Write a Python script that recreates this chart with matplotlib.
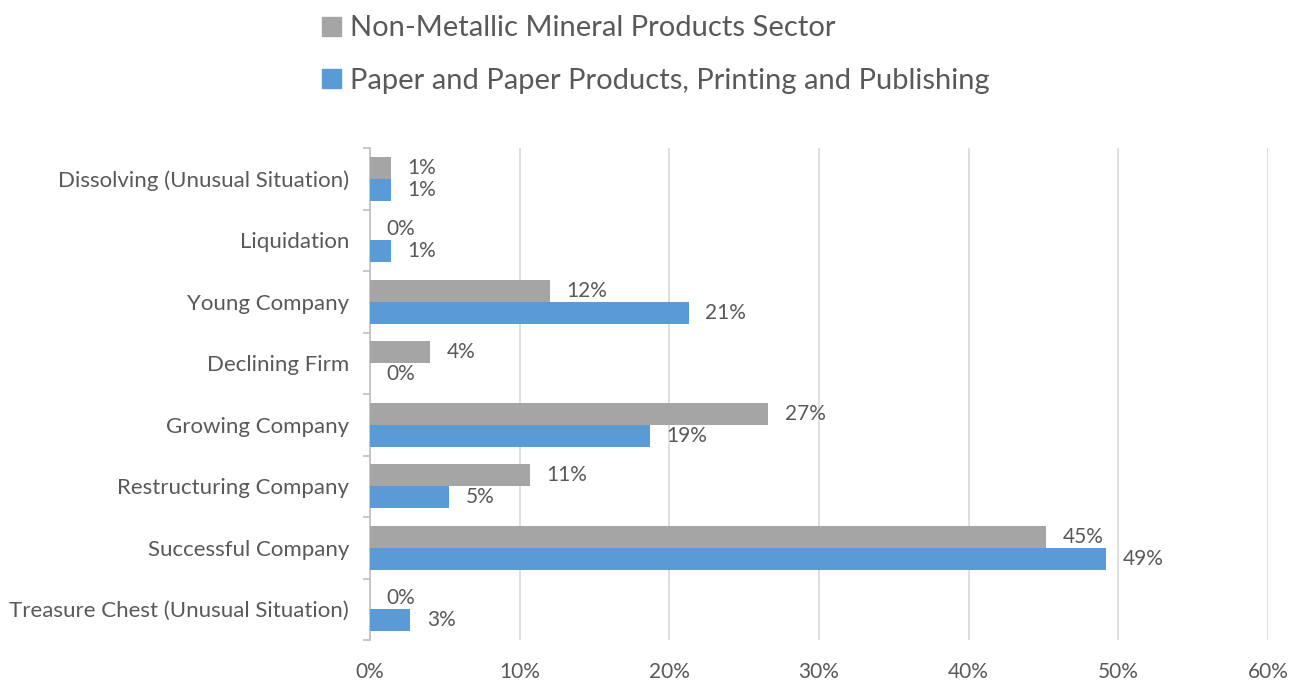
import matplotlib.pyplot as plt
import numpy as np
from matplotlib.patches import Patch
from matplotlib.ticker import FixedLocator, PercentFormatter

categories = ['Dissolving (Unusual Situation)', 'Liquidation', 'Young Company',
              'Declining Firm', 'Growing Company', 'Restructuring Company',
              'Successful Company', 'Treasure Chest (Unusual Situation)']
non_metallic = [1.4, 0.0, 12.0, 4.0, 26.6, 10.7, 45.2, 0.0]
paper = [1.4, 1.4, 21.3, 0.0, 18.7, 5.3, 49.2, 2.7]
series_names = ['Non-Metallic Mineral Products Sector',
                'Paper and Paper Products, Printing and Publishing']

gray = '#a5a5a5'
blue = '#5b9bd5'
text_col = '#595959'

plt.rcParams['font.family'] = ['Lato', 'DejaVu Sans']

fig = plt.figure(figsize=(12.99, 6.8), dpi=100)
ax = fig.add_axes([0.2848, 0.0588, 0.6913, 0.7235])

y = np.arange(len(categories))
h = 0.36
b1 = ax.barh(y - h / 2, non_metallic, height=h, color=gray, zorder=3)
b2 = ax.barh(y + h / 2, paper, height=h, color=blue, zorder=3)

for bars, vals in ((b1, non_metallic), (b2, paper)):
    for bar, v in zip(bars, vals):
        ax.annotate(f'{round(v):.0f}%', (v, bar.get_y() + bar.get_height() / 2),
                    xytext=(12, 0), textcoords='offset points',
                    va='center', ha='left', fontsize=15, color=text_col)

ax.set_xlim(0, 60)
ax.set_ylim(len(categories) - 0.5, -0.5)
ax.set_xticks(np.arange(0, 61, 10))
ax.xaxis.set_major_formatter(PercentFormatter(decimals=0))
ax.set_yticks(y)
ax.set_yticklabels(categories)
ax.yaxis.set_minor_locator(FixedLocator(np.arange(-0.5, len(categories), 1)))
ax.tick_params(axis='y', which='major', length=0, pad=15, labelsize=16, labelcolor=text_col)
ax.tick_params(axis='y', which='minor', length=5, color='#bfbfbf', width=1.2)
ax.tick_params(axis='x', length=0, pad=16, labelsize=15, labelcolor=text_col)
ax.grid(axis='x', color='#d9d9d9', linewidth=1.2, zorder=0)
for s in ('top', 'right', 'bottom'):
    ax.spines[s].set_visible(False)
ax.spines['left'].set_color('#bfbfbf')
ax.spines['left'].set_linewidth(1.2)

handles = [Patch(color=gray), Patch(color=blue)]
fig.legend(handles, series_names, loc='upper left', bbox_to_anchor=(0.228, 1.016),
           frameon=False, fontsize=21, labelcolor=text_col, handlelength=0.62,
           handleheight=0.62, handletextpad=0.33, labelspacing=0.9)

fig.savefig('out.png', dpi=100)
